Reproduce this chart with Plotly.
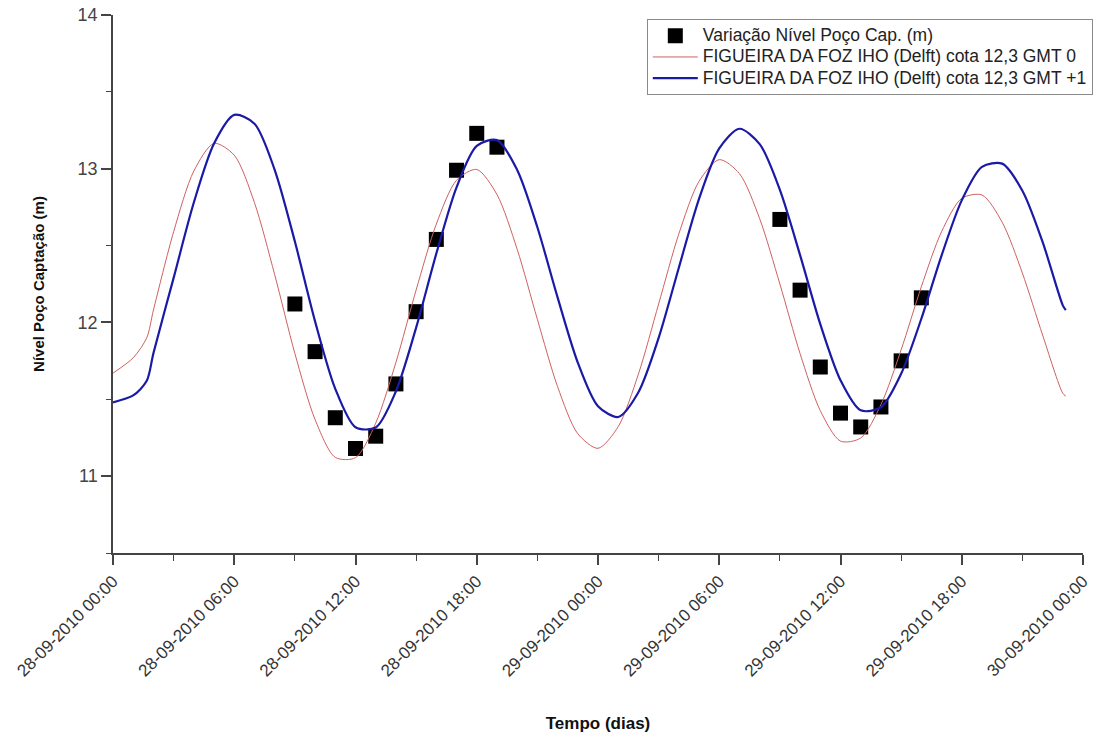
import pandas as pd
import plotly.graph_objects as go

# Measured water level in the intake well (Nível Poço Captação)
obs_times = [
    "2010-09-28 09:00", "2010-09-28 10:00", "2010-09-28 11:00", "2010-09-28 12:00",
    "2010-09-28 13:00", "2010-09-28 14:00", "2010-09-28 15:00", "2010-09-28 16:00",
    "2010-09-28 17:00", "2010-09-28 18:00", "2010-09-28 19:00",
    "2010-09-29 09:00", "2010-09-29 10:00", "2010-09-29 11:00", "2010-09-29 12:00",
    "2010-09-29 13:00", "2010-09-29 14:00", "2010-09-29 15:00", "2010-09-29 16:00",
]
obs_level = [
    12.12, 11.81, 11.38, 11.18, 11.26, 11.60, 12.07, 12.54, 12.99, 13.23, 13.14,
    12.67, 12.21, 11.71, 11.41, 11.32, 11.45, 11.75, 12.16,
]

# Predicted tide, Figueira da Foz (IHO / Delft), hours after 28-09-2010 00:00
gmt0_hours = [0, 1, 1.67, 2, 3, 4, 5, 6, 7, 8, 9, 10, 11, 12, 13, 14, 15, 16, 17, 18,
              19, 20, 21, 22, 23, 24, 25, 26, 27, 28, 29, 30, 31, 32, 33, 34, 35, 36,
              37, 38, 39, 40, 41, 42, 43, 44, 45, 46, 47, 47.15]
gmt0_level = [11.67, 11.77, 11.90, 12.08, 12.59, 12.985, 13.165, 13.088, 12.779, 12.311,
              11.798, 11.368, 11.122, 11.120, 11.345, 11.740, 12.211, 12.640, 12.925,
              12.995, 12.832, 12.476, 12.020, 11.582, 11.276, 11.181, 11.322, 11.664,
              12.120, 12.576, 12.918, 13.059, 12.968, 12.675, 12.250, 11.797, 11.426,
              11.228, 11.248, 11.465, 11.822, 12.232, 12.590, 12.807, 12.829, 12.652,
              12.321, 11.918, 11.539, 11.52]

gmt1_hours = [0, 1, 1.67, 2, 3, 4, 5, 6, 7, 8, 9, 10, 11, 12, 13, 14, 15, 16, 17, 18,
              19, 20, 21, 22, 23, 24, 25, 26, 27, 28, 29, 30, 31, 32, 33, 34, 35, 36,
              37, 38, 39, 40, 41, 42, 43, 44, 45, 46, 47, 47.15]
gmt1_level = [11.48, 11.525, 11.62, 11.80, 12.29, 12.78, 13.164, 13.35, 13.293, 12.993,
              12.526, 12.007, 11.568, 11.318, 11.316, 11.552, 11.966, 12.448, 12.879,
              13.148, 13.186, 12.992, 12.619, 12.163, 11.739, 11.455, 11.385, 11.546,
              11.899, 12.356, 12.804, 13.132, 13.26, 13.16, 12.862, 12.438, 11.989,
              11.624, 11.428, 11.448, 11.666, 12.024, 12.435, 12.794, 13.012, 13.033,
              12.857, 12.524, 12.111, 12.08]

series_names = [
    "Variação Nível Poço Cap. (m)",
    "FIGUEIRA DA FOZ IHO (Delft) cota 12,3 GMT 0",
    "FIGUEIRA DA FOZ IHO (Delft) cota 12,3 GMT +1",
]

origin = pd.Timestamp("2010-09-28 00:00")
gmt0_times = origin + pd.to_timedelta(gmt0_hours, unit="h")
gmt1_times = origin + pd.to_timedelta(gmt1_hours, unit="h")

FONT = "Liberation Sans, Arial, sans-serif"


def legend_label(text):
    # larger glyphs than the legend's base font, keeping the rows compact
    return f'<span style="font-size:17.5px">{text}</span>'


fig = go.Figure()
fig.add_trace(go.Scatter(
    x=pd.to_datetime(obs_times), y=obs_level, mode="markers",
    name=legend_label(series_names[0]),
    marker=dict(symbol="square", size=15, color="black"),
))
fig.add_trace(go.Scatter(
    x=gmt0_times, y=gmt0_level, mode="lines",
    name=legend_label(series_names[1]),
    line=dict(color="#d06060", width=1, shape="spline", smoothing=0.8),
))
fig.add_trace(go.Scatter(
    x=gmt1_times, y=gmt1_level, mode="lines",
    name=legend_label(series_names[2]),
    line=dict(color="#1a1aa6", width=2.2, shape="spline", smoothing=0.8),
))

fig.update_layout(
    width=1095, height=737,
    margin=dict(l=113, r=12, t=15, b=184, autoexpand=False),
    paper_bgcolor="white", plot_bgcolor="white",
    font=dict(family=FONT, size=14, color="#222"),
    legend=dict(
        xref="container", yref="container",
        x=0.998, y=0.974, xanchor="right", yanchor="top",
        bgcolor="white", bordercolor="#8a8a8a", borderwidth=1,
        font=dict(family=FONT, size=14, color="#222"),
        tracegroupgap=0, itemwidth=45,
    ),
    showlegend=True,
)

fig.update_xaxes(
    range=["2010-09-28 00:00", "2010-09-30 00:00"],
    tickmode="linear", tick0="2010-09-28 00:00", dtick=6 * 3600 * 1000,
    tickformat="%d-%m-%Y %H:%M", tickangle=-45,
    ticks="outside", ticklen=10, tickwidth=1.5, tickcolor="#444",
    minor=dict(dtick=3 * 3600 * 1000, ticks="outside", ticklen=6, tickwidth=1.2,
               tickcolor="#444", showgrid=False),
    tickfont=dict(family=FONT, size=17, color="#333"),
    showline=True, linecolor="#444", linewidth=1.5,
    showgrid=False, zeroline=False, automargin=False,
    title=dict(text="<b>Tempo (dias)</b>", font=dict(family=FONT, size=17, color="#111"),
               standoff=38),
)
fig.update_yaxes(
    range=[10.5, 14], tickmode="linear", tick0=10, dtick=1,
    ticks="outside", ticklen=10, tickwidth=1.5, tickcolor="#444",
    minor=dict(dtick=0.5, ticks="outside", ticklen=5, tickwidth=1.2,
               tickcolor="#444", showgrid=False),
    tickfont=dict(family=FONT, size=18, color="#444"),
    showline=True, linecolor="#444", linewidth=1.5,
    showgrid=False, zeroline=False, automargin=False,
    title=dict(text="<b>Nível Poço Captação (m)</b>",
               font=dict(family=FONT, size=15, color="#111"), standoff=29),
)

fig.write_html("out.html")
